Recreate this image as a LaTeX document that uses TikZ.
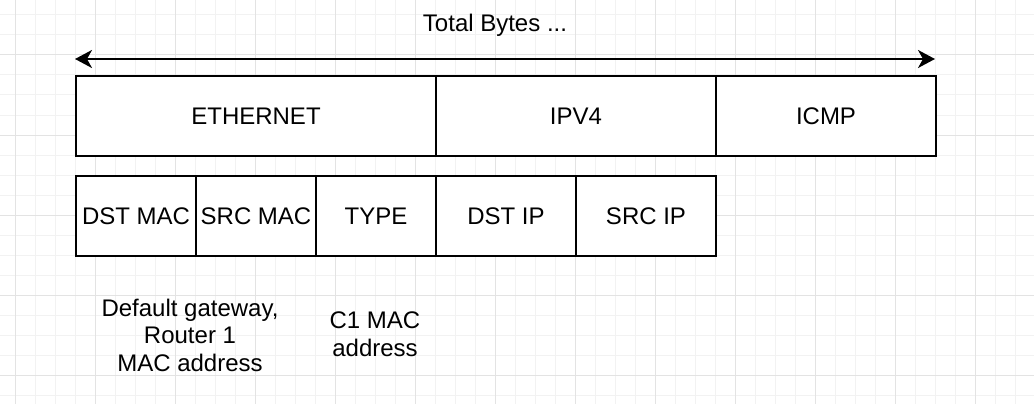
\documentclass[tikz,border=0pt]{standalone}
\usepackage{fontspec}
\setmainfont{Liberation Sans}
\usetikzlibrary{arrows.meta}
\definecolor{gridminor}{HTML}{F2F2F2}
\definecolor{gridmajor}{HTML}{E3E3E3}
\begin{document}
\begin{tikzpicture}[x=1pt,y=-1pt,
  field/.style={draw=black, line width=2pt, fill=white, minimum height=80pt, inner sep=0pt, anchor=north west, font=\fontsize{24}{28}\selectfont},
  note/.style={align=center, font=\fontsize{24}{27.5}\selectfont, inner sep=0pt},
  span/.style={line width=2pt, {Stealth[length=17pt,width=18pt,inset=5pt]}-{Stealth[length=17pt,width=18pt,inset=5pt]}}
]
\useasboundingbox (0,0) rectangle (1034,404);
\fill[white] (0,0) rectangle (1034,404);
% grid
\foreach \x in {15,35,...,1015} \draw[gridminor, line width=1pt] (\x,0) -- (\x,404);
\foreach \y in {15,35,...,395} \draw[gridminor, line width=1pt] (0,\y) -- (1034,\y);
\foreach \x in {15,95,...,1015} \draw[gridmajor, line width=1pt] (\x,0) -- (\x,404);
\foreach \y in {55,135,...,395} \draw[gridmajor, line width=1pt] (0,\y) -- (1034,\y);
% top row
\node[field, minimum width=360pt] (eth) at (75,75) {ETHERNET};
\node[field, minimum width=280pt] (ipv4) at (435,75) {IPV4};
\node[field, minimum width=220pt] (icmp) at (715,75) {ICMP};
% bottom row
\node[field, minimum width=120pt] (dstmac) at (75,175) {DST MAC};
\node[field, minimum width=120pt] (srcmac) at (195,175) {SRC MAC};
\node[field, minimum width=120pt] (type) at (315,175) {TYPE};
\node[field, minimum width=140pt] (dstip) at (435,175) {DST IP};
\node[field, minimum width=140pt] (srcip) at (575,175) {SRC IP};
% span arrow
\coordinate (spanL) at (75,59);
\coordinate (spanR) at (935,59);
\draw[span] (spanL) -- (spanR);
\node[font=\fontsize{24}{28}\selectfont, inner sep=0pt] (total) at (495,25) {Total Bytes ...};
% notes
\node[note] (gw) at (190,335) {Default gateway,\\Router 1\\MAC address};
\node[note] (c1) at (375,334) {C1 MAC\\address};
\end{tikzpicture}
\end{document}
